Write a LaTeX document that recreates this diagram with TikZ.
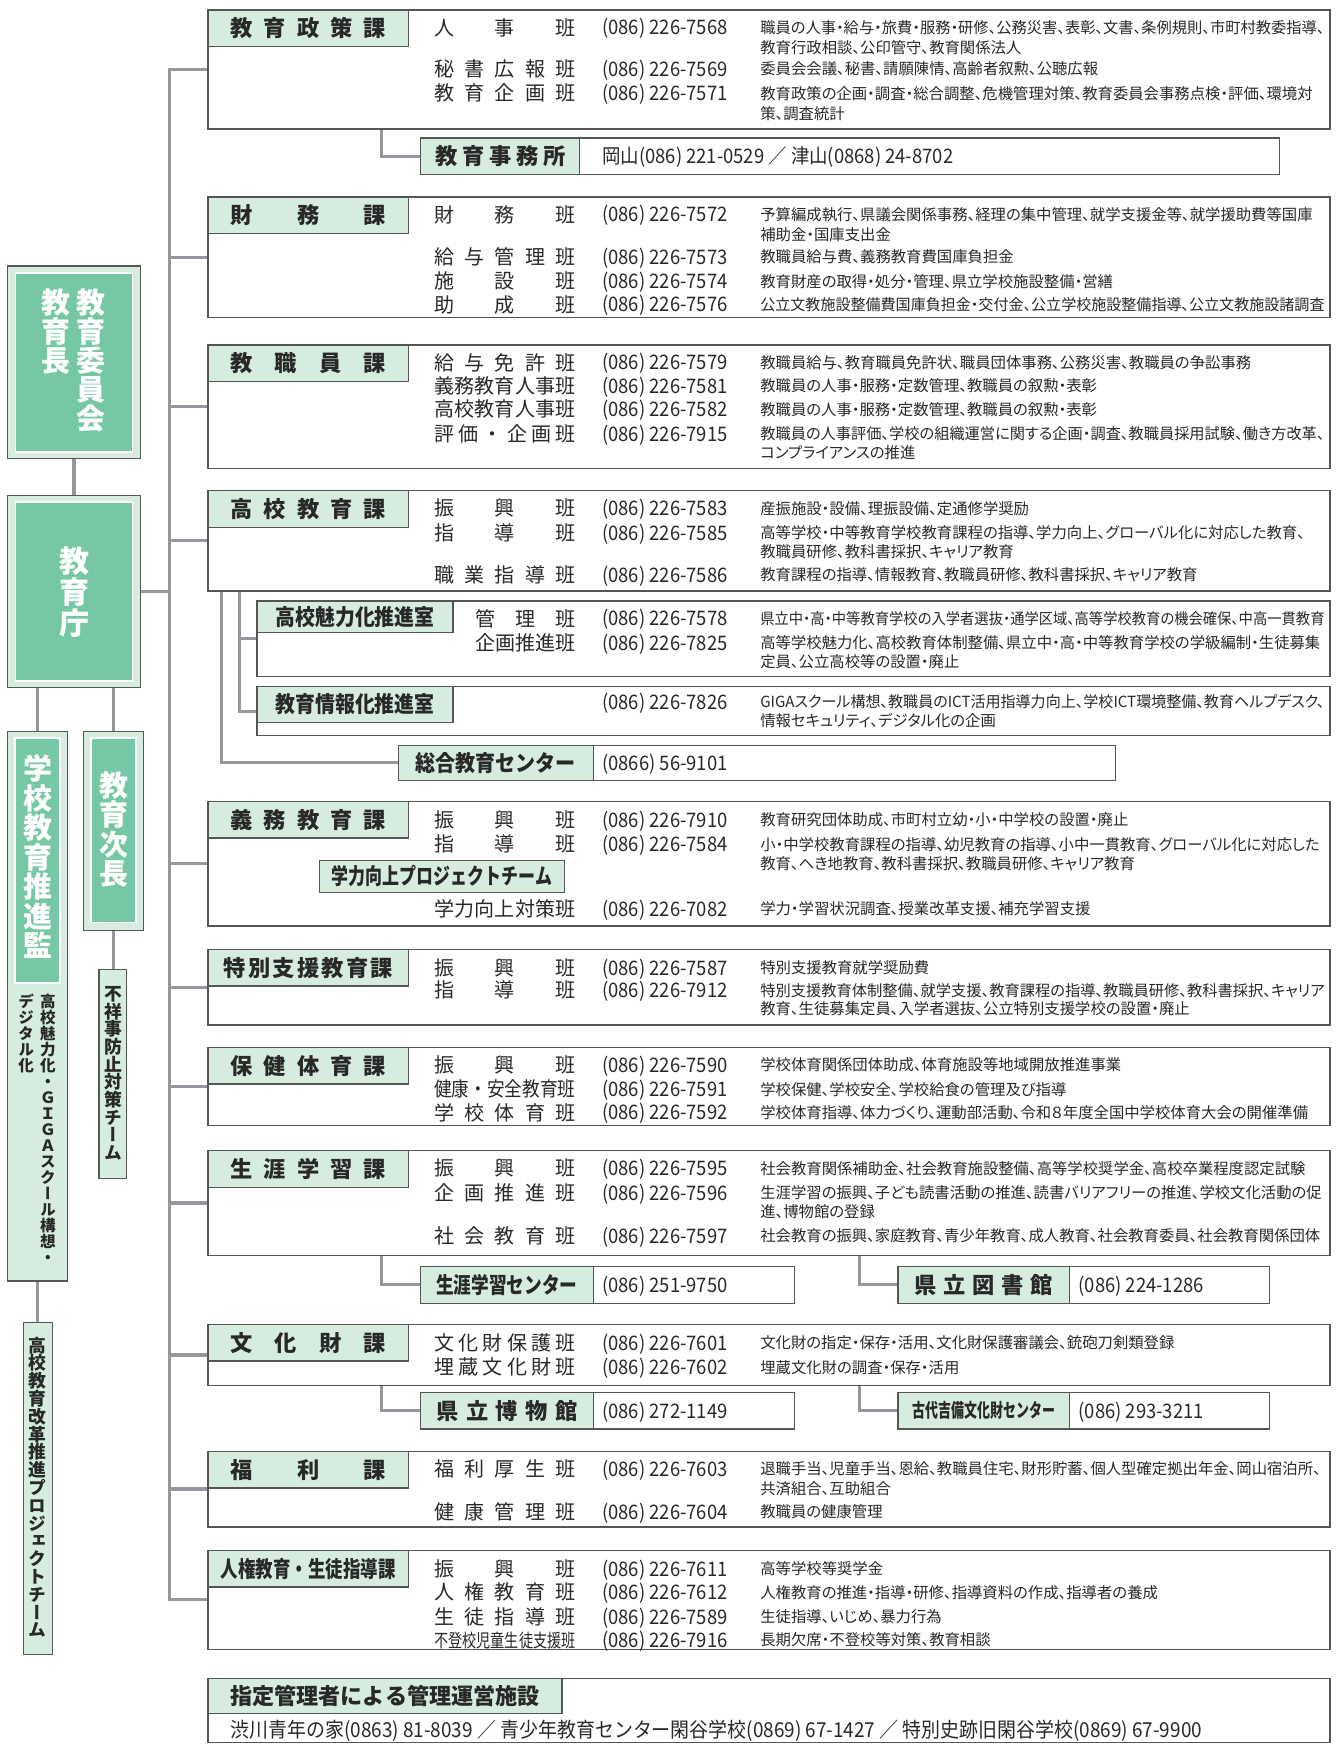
\documentclass[tikz,border=0pt]{standalone}
\usepackage{fontspec}
\usepackage{graphicx}
\setmainfont{Noto Sans CJK JP}
\newfontfamily\descfont[RawFeature=+palt]{Noto Sans CJK JP}
\newfontfamily\phfont[FakeStretch=0.92]{Noto Sans CJK JP}
\newfontfamily\vfont[RawFeature=+vert]{Noto Sans CJK JP}
\usetikzlibrary{backgrounds}
\definecolor{mint}{RGB}{213,236,223}
\definecolor{grn}{RGB}{118,199,164}
\definecolor{bordc}{RGB}{85,85,85}
\definecolor{connc}{RGB}{150,150,156}
\definecolor{txt}{RGB}{40,40,40}

\newsavebox\fitbox
\newcommand\fitw[2]{\sbox\fitbox{#2}\ifdim\wd\fitbox>#1pt\relax\resizebox{#1pt}{\ht\fitbox}{\usebox\fitbox}\else\makebox[#1pt][s]{#2}\fi}
\newcommand\capw[2]{\sbox\fitbox{#2}\ifdim\wd\fitbox>#1pt\relax\resizebox{#1pt}{\ht\fitbox}{\usebox\fitbox}\else\usebox\fitbox\fi}

\ExplSyntaxOn
\NewDocumentCommand\spc{m}
 {
  \bool_set_true:N \l_tmpa_bool
  \tl_map_inline:nn {#1}
   {
    \bool_if:NTF \l_tmpa_bool { \bool_set_false:N \l_tmpa_bool } { \hfill }
    ##1
   }
 }
\NewDocumentCommand\vstack{mm}
 {
  \vbox
   {
    \skip_set:Nn \baselineskip {#1}
    \dim_set:Nn \lineskiplimit {-100pt}
    \tl_map_inline:nn {#2} { \hbox_to_wd:nn {1em} { \hfil ##1 \hfil } }
   }
 }
\ExplSyntaxOff

\newcount\txtn
\tikzset{
 obox/.style={draw=bordc, line width=1.1pt, fill=white, inner sep=0pt, outer sep=0pt},
 hdbox/.style={draw=bordc, line width=1.1pt, fill=mint, inner sep=0pt, outer sep=0pt},
 lbox/.style={draw=bordc, line width=1.1pt, fill=mint, inner sep=0pt, outer sep=0pt},
 gbox/.style={draw=white, line width=1.6pt, fill=grn, inner sep=0pt, outer sep=0pt},
 conn/.style={draw=connc, line width=2.8pt},
 hd/.style={font=\fontsize{20}{21}\selectfont\bfseries, text=txt, inner sep=0pt},
 lab/.style={font=\fontsize{18}{20}\selectfont, text=txt, inner sep=0pt, anchor=base west},
 ph/.style={font=\phfont\fontsize{18}{20}\selectfont, text=txt, inner sep=0pt, anchor=base west},
 ds/.style={font=\descfont\fontsize{13.8}{15}\selectfont, text=txt, inner sep=0pt, anchor=base west},
 vw/.style={font=\vfont\fontsize{26}{26}\selectfont\bfseries, text=white, inner sep=0pt, anchor=north},
 vd/.style={font=\vfont\fontsize{14}{14}\selectfont\bfseries, text=txt, inner sep=0pt, anchor=north},
}
\newcommand\bx[6]{\node[#6, anchor=north west, minimum width={(#4)-(#2)}, minimum height={(#5)-(#3)}] (#1) at (#2,#3) {};}
\newcommand\rw[4]{\global\advance\txtn by 1
 \node[lab] (L\the\txtn) at (390,#1+6.5) {\fitw{127}{#2}};
 \node[ph] (P\the\txtn) at (541,#1+6.3) {#3};
 \node[ds] (D\the\txtn) at (683,#1+5) {\capw{507}{#4}};}
\newcommand\rwx[6]{\global\advance\txtn by 1
 \node[lab] (L\the\txtn) at (#1,#3+6.5) {\fitw{#2}{#4}};
 \node[ph] (P\the\txtn) at (541,#3+6.3) {#5};
 \node[ds] (D\the\txtn) at (683,#3+5) {\capw{507}{#6}};}
\newcommand\dl[2]{\global\advance\txtn by 1 \node[ds] (E\the\txtn) at (683,#1+5) {\capw{507}{#2}};}
\newcommand\hdr[3]{\node[hd] (#1T) at (#1.center) {\fitw{#2}{#3}};}

\begin{document}
\begin{tikzpicture}[x=1pt,y=-1pt]
\useasboundingbox (0,0) rectangle (1202,1568);

% ---------- left column ----------
\bx{iinkai}{7}{239}{126}{412}{lbox}
\bx{iinkaiG}{14}{245}{119}{406}{gbox}
\node[vw] (tIinkai) at (82,259) {\vstack{26.2pt}{教育委員会}};
\node[vw] (tKyoikucho) at (50,259) {\vstack{26.2pt}{教育長}};

\bx{kyoikucho}{7}{445}{126}{618}{lbox}
\bx{kyoikuchoG}{14}{451}{119}{612}{gbox}
\node[vw, font=\vfont\fontsize{27}{27}\selectfont\bfseries, anchor=center] (tCho) at (67,532) {\vstack{28pt}{教育庁}};

\bx{suishin}{7}{657}{61}{1151}{lbox}
\bx{suishinG}{13.5}{663}{54}{883}{gbox}
\node[vw] (tSuishin) at (34,678) {\vstack{26.5pt}{学校教育推進監}};
\node[vd] (tSuishinA) at (43,893) {\vstack{14.4pt}{高校魅力化・ＧＩＧＡスクール構想・}};
\node[vd] (tSuishinB) at (23.5,893) {\vstack{14.4pt}{デジタル化}};

\bx{jicho}{75}{657}{129}{836}{lbox}
\bx{jichoG}{82}{663}{122}{829}{gbox}
\node[vw] (tJicho) at (102,693) {\vstack{26.5pt}{教育次長}};

\bx{fushoji}{89}{871}{114}{1059}{lbox}
\node[vd, font=\vfont\fontsize{16}{16}\selectfont\bfseries] (tFushoji) at (101.5,886) {\vstack{15.9pt}{不祥事防止対策チーム}};

\bx{kaikaku}{21}{1188}{47}{1487}{lbox}
\node[vd, font=\vfont\fontsize{16}{16}\selectfont\bfseries] (tKaikaku) at (34,1201) {\vstack{16pt}{高校教育改革推進プロジェクトチーム}};

% ---------- 教育政策課 ----------
\bx{seisaku}{187}{9}{1195}{116}{obox}
\bx{seisakuH}{187}{9}{367}{42}{hdbox}
\hdr{seisakuH}{140}{\spc{教育政策課}}
\rw{25}{\spc{人事班}}{(086) 226-7568}{職員の人事・給与・旅費・服務・研修、公務災害、表彰、文書、条例規則、市町村教委指導、}
\dl{43}{教育行政相談、公印管守、教育関係法人}
\rw{62}{\spc{秘書広報班}}{(086) 226-7569}{委員会会議、秘書、請願陳情、高齢者叙勲、公聴広報}
\rw{84}{\spc{教育企画班}}{(086) 226-7571}{教育政策の企画・調査・総合調整、危機管理対策、教育委員会事務点検・評価、環境対}
\dl{102}{策、調査統計}

\bx{jimusho}{378}{124}{1150}{157}{obox}
\bx{jimushoH}{378}{124}{521}{157}{hdbox}
\hdr{jimushoH}{117}{\spc{教育事務所}}
\node[ph] (jimushoP) at (541,141+6.3) {岡山(086) 221-0529 ／ 津山(0868) 24-8702};

% ---------- 財務課 ----------
\bx{zaimu}{187}{177}{1195}{285}{obox}
\bx{zaimuH}{187}{177}{367}{210}{hdbox}
\hdr{zaimuH}{140}{\spc{財務課}}
\rw{193}{\spc{財務班}}{(086) 226-7572}{予算編成執行、県議会関係事務、経理の集中管理、就学支援金等、就学援助費等国庫}
\dl{211}{補助金・国庫支出金}
\rw{231}{\spc{給与管理班}}{(086) 226-7573}{教職員給与費、義務教育費国庫負担金}
\rw{253}{\spc{施設班}}{(086) 226-7574}{教育財産の取得・処分・管理、県立学校施設整備・営繕}
\rw{274}{\spc{助成班}}{(086) 226-7576}{公立文教施設整備費国庫負担金・交付金、公立学校施設整備指導、公立文教施設諸調査}

% ---------- 教職員課 ----------
\bx{kyoshoku}{187}{310}{1195}{421}{obox}
\bx{kyoshokuH}{187}{310}{367}{343}{hdbox}
\hdr{kyoshokuH}{140}{\spc{教職員課}}
\rw{326}{\spc{給与免許班}}{(086) 226-7579}{教職員給与、教育職員免許状、職員団体事務、公務災害、教職員の争訟事務}
\rw{347}{\spc{義務教育人事班}}{(086) 226-7581}{教職員の人事・服務・定数管理、教職員の叙勲・表彰}
\rw{368}{\spc{高校教育人事班}}{(086) 226-7582}{教職員の人事・服務・定数管理、教職員の叙勲・表彰}
\rw{390}{\spc{評価・企画班}}{(086) 226-7915}{教職員の人事評価、学校の組織運営に関する企画・調査、教職員採用試験、働き方改革、}
\dl{407}{コンプライアンスの推進}

% ---------- 高校教育課 ----------
\bx{koko}{187}{441}{1195}{531}{obox}
\bx{kokoH}{187}{441}{367}{474}{hdbox}
\hdr{kokoH}{140}{\spc{高校教育課}}
\rw{457}{\spc{振興班}}{(086) 226-7583}{産振施設・設備、理振設備、定通修学奨励}
\rw{479}{\spc{指導班}}{(086) 226-7585}{高等学校・中等教育学校教育課程の指導、学力向上、グローバル化に対応した教育、}
\dl{496}{教職員研修、教科書採択、キャリア教育}
\rw{517}{\spc{職業指導班}}{(086) 226-7586}{教育課程の指導、情報教育、教職員研修、教科書採択、キャリア教育}

\bx{miryoku}{231}{540}{1195}{608}{obox}
\bx{miryokuH}{231}{540}{407}{568}{hdbox}
\hdr{miryokuH}{143}{\spc{高校魅力化推進室}}
\rwx{427}{90}{556}{\spc{管理班}}{(086) 226-7578}{県立中・高・中等教育学校の入学者選抜・通学区域、高等学校教育の機会確保、中高一貫教育}
\rwx{427}{90}{578}{\spc{企画推進班}}{(086) 226-7825}{高等学校魅力化、高校教育体制整備、県立中・高・中等教育学校の学級編制・生徒募集}
\dl{595}{定員、公立高校等の設置・廃止}

\bx{johoka}{231}{617}{1195}{661}{obox}
\bx{johokaH}{231}{617}{407}{649}{hdbox}
\hdr{johokaH}{143}{\spc{教育情報化推進室}}
\node[ph] (johokaP) at (541,631+6.3) {(086) 226-7826};
\dl{631}{GIGAスクール構想、教職員のICT活用指導力向上、学校ICT環境整備、教育ヘルプデスク、}
\dl{648}{情報セキュリティ、デジタル化の企画}

\bx{sogo}{358}{670}{1002}{701}{obox}
\bx{sogoH}{358}{670}{533}{701}{hdbox}
\hdr{sogoH}{144}{\spc{総合教育センター}}
\node[ph] (sogoP) at (541,686+6.3) {(0866) 56-9101};

% ---------- 義務教育課 ----------
\bx{gimu}{187}{720}{1195}{832}{obox}
\bx{gimuH}{187}{720}{367}{753}{hdbox}
\hdr{gimuH}{140}{\spc{義務教育課}}
\rw{737}{\spc{振興班}}{(086) 226-7910}{教育研究団体助成、市町村立幼・小・中学校の設置・廃止}
\rw{759}{\spc{指導班}}{(086) 226-7584}{小・中学校教育課程の指導、幼児教育の指導、小中一貫教育、グローバル化に対応した}
\dl{776}{教育、へき地教育、教科書採択、教職員研修、キャリア教育}
\bx{gakuryoku}{287}{773}{507}{802}{hdbox}
\hdr{gakuryoku}{198}{\spc{学力向上プロジェクトチーム}}
\rw{817}{\spc{学力向上対策班}}{(086) 226-7082}{学力・学習状況調査、授業改革支援、補充学習支援}

% ---------- 特別支援教育課 ----------
\bx{tokubetsu}{187}{853}{1195}{921}{obox}
\bx{tokubetsuH}{187}{853}{367}{886}{hdbox}
\hdr{tokubetsuH}{152}{\spc{特別支援教育課}}
\rw{870}{\spc{振興班}}{(086) 226-7587}{特別支援教育就学奨励費}
\rw{890}{\spc{指導班}}{(086) 226-7912}{特別支援教育体制整備、就学支援、教育課程の指導、教職員研修、教科書採択、キャリア}
\dl{907}{教育、生徒募集定員、入学者選抜、公立特別支援学校の設置・廃止}

% ---------- 保健体育課 ----------
\bx{hoken}{187}{941}{1195}{1011}{obox}
\bx{hokenH}{187}{941}{367}{974}{hdbox}
\hdr{hokenH}{140}{\spc{保健体育課}}
\rw{957}{\spc{振興班}}{(086) 226-7590}{学校体育関係団体助成、体育施設等地域開放推進事業}
\rw{979}{\spc{健康・安全教育班}}{(086) 226-7591}{学校保健、学校安全、学校給食の管理及び指導}
\rw{1000}{\spc{学校体育班}}{(086) 226-7592}{学校体育指導、体力づくり、運動部活動、令和８年度全国中学校体育大会の開催準備}

% ---------- 生涯学習課 ----------
\bx{shogai}{187}{1034}{1195}{1128}{obox}
\bx{shogaiH}{187}{1034}{367}{1067}{hdbox}
\hdr{shogaiH}{140}{\spc{生涯学習課}}
\rw{1050}{\spc{振興班}}{(086) 226-7595}{社会教育関係補助金、社会教育施設整備、高等学校奨学金、高校卒業程度認定試験}
\rw{1072}{\spc{企画推進班}}{(086) 226-7596}{生涯学習の振興、子ども読書活動の推進、読書バリアフリーの推進、学校文化活動の促}
\dl{1089}{進、博物館の登録}
\rw{1111}{\spc{社会教育班}}{(086) 226-7597}{社会教育の振興、家庭教育、青少年教育、成人教育、社会教育委員、社会教育関係団体}

\bx{shogaiC}{378}{1138}{714}{1171}{obox}
\bx{shogaiCH}{378}{1138}{533}{1171}{hdbox}
\hdr{shogaiCH}{127}{\spc{生涯学習センター}}
\node[ph] (shogaiCP) at (541,1155+6.3) {(086) 251-9750};
\bx{toshokan}{807}{1138}{1141}{1171}{obox}
\bx{toshokanH}{807}{1138}{961}{1171}{hdbox}
\hdr{toshokanH}{124}{\spc{県立図書館}}
\node[ph] (toshokanP) at (969,1155+6.3) {(086) 224-1286};

% ---------- 文化財課 ----------
\bx{bunka}{187}{1190}{1195}{1245}{obox}
\bx{bunkaH}{187}{1190}{367}{1223}{hdbox}
\hdr{bunkaH}{140}{\spc{文化財課}}
\rw{1207}{\spc{文化財保護班}}{(086) 226-7601}{文化財の指定・保存・活用、文化財保護審議会、銃砲刀剣類登録}
\rw{1229}{\spc{埋蔵文化財班}}{(086) 226-7602}{埋蔵文化財の調査・保存・活用}

\bx{hakubutsu}{378}{1251}{714}{1284}{obox}
\bx{hakubutsuH}{378}{1251}{533}{1284}{hdbox}
\hdr{hakubutsuH}{127}{\spc{県立博物館}}
\node[ph] (hakubutsuP) at (541,1268+6.3) {(086) 272-1149};
\bx{kodai}{807}{1251}{1141}{1284}{obox}
\bx{kodaiH}{807}{1251}{961}{1284}{hdbox}
\hdr{kodaiH}{128}{{\fontsize{17}{18}\selectfont\spc{古代吉備文化財センター}}}
\node[ph] (kodaiP) at (969,1268+6.3) {(086) 293-3211};

% ---------- 福利課 ----------
\bx{fukuri}{187}{1304}{1195}{1372}{obox}
\bx{fukuriH}{187}{1304}{367}{1337}{hdbox}
\hdr{fukuriH}{140}{\spc{福利課}}
\rw{1320}{\spc{福利厚生班}}{(086) 226-7603}{退職手当、児童手当、恩給、教職員住宅、財形貯蓄、個人型確定拠出年金、岡山宿泊所、}
\dl{1338}{共済組合、互助組合}
\rw{1359}{\spc{健康管理班}}{(086) 226-7604}{教職員の健康管理}

% ---------- 人権教育・生徒指導課 ----------
\bx{jinken}{187}{1393}{1195}{1482}{obox}
\bx{jinkenH}{187}{1393}{367}{1426}{hdbox}
\hdr{jinkenH}{157}{\spc{人権教育・生徒指導課}}
\rw{1410}{\spc{振興班}}{(086) 226-7611}{高等学校等奨学金}
\rw{1431}{\spc{人権教育班}}{(086) 226-7612}{人権教育の推進・指導・研修、指導資料の作成、指導者の養成}
\rw{1453}{\spc{生徒指導班}}{(086) 226-7589}{生徒指導、いじめ、暴力行為}
\rw{1474}{{\fontsize{16.5}{17}\selectfont\spc{不登校児童生徒支援班}}}{(086) 226-7916}{長期欠席・不登校等対策、教育相談}

% ---------- 指定管理者 ----------
\bx{shitei}{187}{1508}{1195}{1566}{obox}
\bx{shiteiH}{187}{1508}{505}{1540}{hdbox}
\hdr{shiteiH}{278}{\spc{指定管理者による管理運営施設}}
\node[ph, font=\phfont\fontsize{18.5}{19}\selectfont] (shiteiP) at (207,1555+6.3) {渋川青年の家(0863) 81-8039 ／ 青少年教育センター閑谷学校(0869) 67-1427 ／ 特別史跡旧閑谷学校(0869) 67-9900};

% ---------- connectors ----------
\begin{scope}[on background layer]
\coordinate (trunk) at (152,0);
\coordinate (c343) at (343,0);
\coordinate (c199) at (199,0);
\coordinate (c215) at (215,0);
\coordinate (c772) at (772,0);
\draw[conn] (seisaku.west) -- (seisaku.west -| trunk) -- (jinken.west -| trunk) -- (jinken.west);
\foreach \b in {zaimu,kyoshoku,koko,gimu,tokubetsu,hoken,shogai,bunka,fukuri}
  \draw[conn] (\b.west -| trunk) -- (\b.west);
\draw[conn] (kyoikucho.east) -- (kyoikucho.east -| trunk);
\draw[conn] (iinkai.south) -- (kyoikucho.north);
\draw[conn] (suishin.north) -- (suishin.north |- kyoikucho.south);
\draw[conn] (jicho.north) -- (jicho.north |- kyoikucho.south);
\draw[conn] (jicho.south) -- (jicho.south |- fushoji.north);
\draw[conn] (suishin.south) -- (suishin.south |- kaikaku.north);
\draw[conn] (seisaku.south -| c343) |- (jimusho.west);
\draw[conn] (koko.south -| c199) |- (sogo.west);
\draw[conn] (koko.south -| c215) |- (johoka.west);
\draw[conn] (miryoku.west -| c215) -- (miryoku.west);
\draw[conn] (gimuH.south -| c215) |- (gakuryoku.west);
\draw[conn] (shogai.south -| c343) |- (shogaiC.west);
\draw[conn] (shogai.south -| c772) |- (toshokan.west);
\draw[conn] (bunka.south -| c343) |- (hakubutsu.west);
\draw[conn] (bunka.south -| c772) |- (kodai.west);
\end{scope}
\end{tikzpicture}
\end{document}
